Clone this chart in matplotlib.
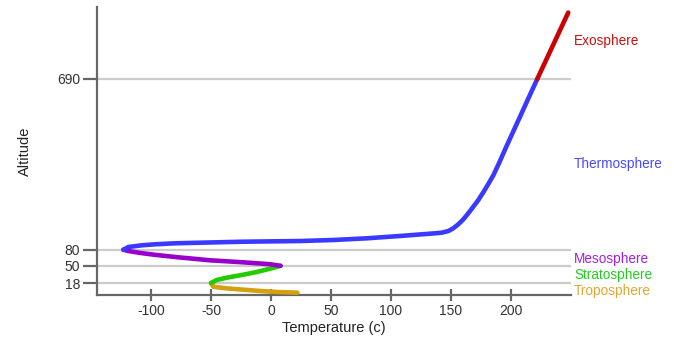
import numpy as np
import matplotlib.pyplot as plt

plt.rcParams['font.family'] = ['Liberation Sans', 'DejaVu Sans']
plt.rcParams['axes.unicode_minus'] = False

# boundaries between layers (altitude)
bounds = [18, 50, 80, 690]
xticks = [-100, -50, 0, 50, 100, 150, 200]

# curves: (temperature, altitude)
tropo_temp = [22, 4.7, -9.2, -23.1, -36.9, -48.1, -50]
tropo_alt = [0, 1.3, 3.2, 5.6, 8.0, 11.1, 18]

strato_temp = [-50, -45.3, -36.9, -23.1, -11.9, -0.8, 8]
strato_alt = [18, 23.6, 27.9, 33.5, 38.5, 44.6, 50]

meso_temp = [8, -0.8, -23.1, -50.8, -78.0, -96.7, -109.0, -118.9, -123]
meso_alt = [50, 53.0, 56.5, 60.3, 66.0, 70.5, 74.0, 77.6, 80]

thermo_temp = [-123, -118.9, -107.8, -96.7, -80.0, -23.1, 24.2, 51.9, 79.8, 107.5,
               136.7, 142.2, 147.8, 151.9, 156.1, 160.3, 164.4, 168.6, 172.8,
               176.9, 181.1, 185.3, 190.0, 196.4, 207.5, 214.4, 221.9]
thermo_alt = [80, 89.6, 95.7, 99.3, 102.9, 108.6, 111, 114.7, 120.7, 129,
              138.6, 140.8, 146.8, 156.5, 170.8, 188.6, 210, 233.7, 257.6,
              285.1, 314.8, 346, 389, 451, 555, 620, 690]

exo_temp = [221.9, 247.7]
exo_alt = [690, 927]

names = ['Exosphere', 'Thermosphere', 'Mesosphere', 'Stratosphere', 'Troposphere']
label_alt = [826, 385, 63, 32, 2.5]
line_colors = ['#cc0000', '#3a3aff', '#9900cc', '#22cc00', '#d4a00f']
text_colors = ['#cc1111', '#4a4aff', '#a020e0', '#22cc22', '#e0a830']

# altitude axis: linear up to 80, compressed above
k = 0.521
def fwd(a):
    a = np.asarray(a, dtype=float)
    return np.where(a <= 80, a, 80 + (a - 80) * k)

def inv(p):
    p = np.asarray(p, dtype=float)
    return np.where(p <= 80, p, 80 + (p - 80) / k)

fig = plt.figure(figsize=(6.74, 3.44), dpi=100)
ax = fig.add_axes([97 / 674, 49 / 344, 474 / 674, 288 / 344])
ax.set_yscale('function', functions=(fwd, inv))
ax.set_xlim(-145, 250)
ax.set_ylim(-4.3, 947)

for b in bounds:
    ax.axhline(b, color='#cccccc', lw=1.6, zorder=1)

curves = [(exo_temp, exo_alt), (thermo_temp, thermo_alt), (meso_temp, meso_alt),
          (strato_temp, strato_alt), (tropo_temp, tropo_alt)]
for (t, a), c in zip(curves[::-1], line_colors[::-1]):
    ax.plot(t, a, color=c, lw=3.3, solid_capstyle='round', solid_joinstyle='round', zorder=3)

for name, a, c in zip(names, label_alt, text_colors):
    ax.text(252.5, a, name, color=c, fontsize=9.8, va='center', ha='left')

ax.set_xticks(xticks)
ax.set_yticks(bounds)
ax.set_yticklabels([str(b) for b in bounds])
ax.minorticks_off()
for s in ['top', 'right']:
    ax.spines[s].set_visible(False)
for s in ['left', 'bottom']:
    ax.spines[s].set_color('#666666')
    ax.spines[s].set_linewidth(1.6)
ax.tick_params(colors='#666666', width=1.6, labelcolor='#333333', labelsize=10)
ax.tick_params(axis='x', direction='inout', length=8.6, pad=2)
ax.tick_params(axis='y', direction='out', length=10, pad=2.2)
ax.set_xlabel('Temperature (c)', fontsize=10.5, color='#222222')
ax.set_ylabel('Altitude', fontsize=10.5, color='#222222')
ax.xaxis.set_label_coords(0.5, -0.09)
ax.yaxis.set_label_coords(-0.137, 0.5)

fig.savefig('out.png', dpi=100)
